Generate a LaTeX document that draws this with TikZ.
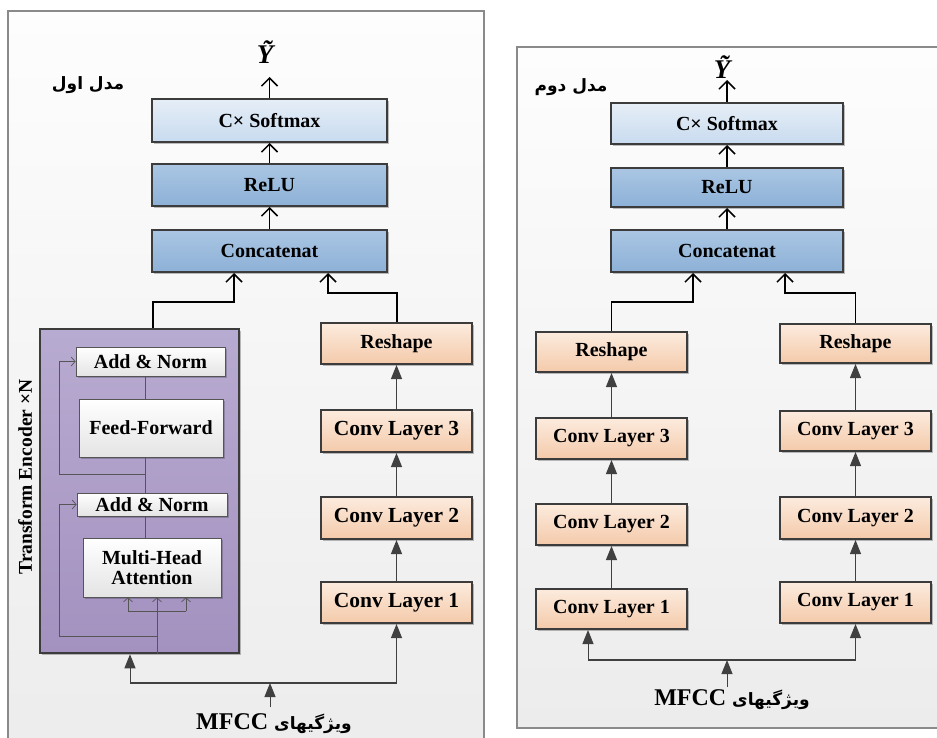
\documentclass[tikz,border=0pt]{standalone}
\usepackage{fontspec}
\setmainfont{Liberation Serif}
\newfontfamily\fa[Script=Arabic]{DejaVu Sans}
\TeXXeTstate=1
\usetikzlibrary{arrows.meta,shadows}
\definecolor{panelTop}{HTML}{FDFDFD}
\definecolor{panelBot}{HTML}{ECECEC}
\definecolor{panelBorder}{HTML}{8A8A8A}
\definecolor{boxBorder}{HTML}{3C3C3C}
\definecolor{softTop}{HTML}{E6EEF7}
\definecolor{softBot}{HTML}{C8DBEF}
\definecolor{blueTop}{HTML}{AAC6E3}
\definecolor{blueBot}{HTML}{8DB1D7}
\definecolor{orTop}{HTML}{FCEBDE}
\definecolor{orBot}{HTML}{F4CAAA}
\definecolor{purTop}{HTML}{B8ABD1}
\definecolor{purBot}{HTML}{A391BF}
\definecolor{whBot}{HTML}{E4E4E4}
\definecolor{thinGray}{HTML}{555555}
\definecolor{arrGray}{HTML}{404040}
\begin{document}
\begin{tikzpicture}[x=1pt,y=-1pt,
  font=\bfseries\fontsize{20}{22}\selectfont,
  panel/.style={draw=panelBorder, line width=1.2pt, top color=panelTop, bottom color=panelBot},
  box/.style={draw=boxBorder, line width=2pt, inner sep=0pt,
    drop shadow={shadow xshift=2pt, shadow yshift=-2pt, opacity=0.25, fill=black}},
  softbox/.style={box, top color=softTop, bottom color=softBot},
  bluebox/.style={box, top color=blueTop, bottom color=blueBot},
  orbox/.style={box, top color=orTop, bottom color=orBot},
  purbox/.style={box, line width=2.5pt, top color=purTop, bottom color=purBot},
  whbox/.style={draw=thinGray, line width=0.8pt, inner sep=0pt, top color=white, bottom color=whBot,
    drop shadow={shadow xshift=1.5pt, shadow yshift=-1.5pt, opacity=0.2, fill=black}},
  bigarr/.style={line width=1.5pt, -{Straight Barb[length=8pt,width=16pt]}},
  bigline/.style={line width=1.5pt},
  grayarr/.style={draw=arrGray, line width=1pt, -{Triangle[length=14pt,width=11pt]}, arrGray},
  grayline/.style={draw=arrGray, line width=1.5pt},
  thinarr/.style={draw=thinGray, line width=0.7pt, -{Straight Barb[length=4pt,width=9pt]}},
  thinline/.style={draw=thinGray, line width=0.7pt},
  txt/.style={inner sep=0pt},
  fatxt/.style={inner sep=0pt, font=\fa\bfseries\fontsize{17}{18}\selectfont}
]
\useasboundingbox (0,0) rectangle (937,738);
\clip (0,0) rectangle (937,738);
\fill[white] (0,0) rectangle (937,738);

% ---------------- panels
\path[panel] (8,11) rectangle (484,760);
\path[panel] (517,47) rectangle (960,728);

% ================= LEFT PANEL
\node[softbox, minimum width=235pt, minimum height=43pt] (lsoft) at (269.5,120.5) {C× Softmax};
\node[bluebox, minimum width=235pt, minimum height=42pt] (lrelu) at (269.5,185) {ReLU};
\node[bluebox, minimum width=235pt, minimum height=42pt] (lconc) at (269.5,251) {Concatenat};

\node[txt, font=\bfseries\itshape\fontsize{27}{27}\selectfont] (ly) at (265,52) {Ỹ};
\node[fatxt] (lt) at (88,85) {\beginR مدل اول\endR};

\node[orbox, minimum width=151pt, minimum height=41pt] (lresh) at (396.5,343.5) {Reshape};
\node[orbox, minimum width=151pt, minimum height=42pt, font=\bfseries\fontsize{21.5}{22}\selectfont] (lc3) at (396.5,431) {Conv Layer 3};
\node[orbox, minimum width=151pt, minimum height=42pt, font=\bfseries\fontsize{21.5}{22}\selectfont] (lc2) at (396.5,518) {Conv Layer 2};
\node[orbox, minimum width=151pt, minimum height=41pt, font=\bfseries\fontsize{21.5}{22}\selectfont] (lc1) at (396.5,602.5) {Conv Layer 1};

% transformer
\node[purbox, minimum width=199pt, minimum height=324pt] (tr) at (139.5,491) {};
\node[txt, rotate=90, font=\bfseries\fontsize{19.5}{20}\selectfont] (trl) at (25,477) {Transform Encoder ×N};
\node[whbox, minimum width=149pt, minimum height=29pt] (an1) at (150.5,361.5) {Add \& Norm};
\node[whbox, minimum width=144pt, minimum height=58pt] (ff) at (151,428) {Feed-Forward};
\node[whbox, minimum width=150pt, minimum height=23pt] (an2) at (152,504.5) {Add \& Norm};
\node[whbox, minimum width=138pt, minimum height=59pt, align=center] (mha) at (152,567.5) {Multi-Head\\[-2pt]Attention};

% transformer internal lines
\coordinate (v) at (145,0);
\draw[thinline] (an1.south -| v) -- (ff.north -| v);
\draw[thinline] (ff.south -| v) -- (an2.north -| v);
\draw[thinline] (an2.south -| v) -- (mha.north -| v);
\coordinate (r1s) at (145,474);
\coordinate (r1c) at (59,474);
\draw[thinarr] (r1s) -- (r1c) |- (an1.west);
\coordinate (r2s) at (157,636);
\coordinate (r2c) at (59,636);
\draw[thinarr] (r2s) -- (r2c) |- (an2.west);
\coordinate (in0) at (157,611);
\coordinate (ia) at (128,611);
\coordinate (ib) at (186,611);
\draw[thinline] (tr.south -| in0) -- (in0);
\draw[thinline] (ia) -- (ib);
\draw[thinarr] (ia) -- (mha.south -| ia);
\draw[thinarr] (in0) -- (mha.south -| in0);
\draw[thinarr] (ib) -- (mha.south -| ib);

% top connectors left
\coordinate (lyE) at (269.5,77);
\draw[bigarr] (lsoft.north) -- (lyE);
\draw[bigarr] (lrelu.north) -- (lsoft.south);
\draw[bigarr] (lconc.north) -- (lrelu.south);
\coordinate (lA) at (153,302);
\coordinate (lB) at (234,302);
\draw[bigarr] (tr.north -| lA) -- (lA) -- (lB) -- (lconc.south -| lB);
\coordinate (lC) at (397,293);
\coordinate (lD) at (328,293);
\draw[bigarr] (lresh.north -| lC) -- (lC) -- (lD) -- (lconc.south -| lD);

% conv column arrows left
\draw[grayarr] (lc3.north) -- (lresh.south);
\draw[grayarr] (lc2.north) -- (lc3.south);
\draw[grayarr] (lc1.north) -- (lc2.south);

% bottom left
\node[txt] (lmf) at (274,724) {\fontsize{24}{24}\selectfont MFCC {\fa\fontsize{17}{18}\selectfont\beginR ویژگیهای\endR}};
\coordinate (lmS) at (270,707);
\coordinate (lmE) at (270,683);
\coordinate (lhL) at (130,683);
\coordinate (lhR) at (396.5,683);
\draw[grayline] (lhL) -- (lhR);
\draw[grayarr] (lmS) -- (lmE);
\draw[grayarr] (lhL) -- (tr.south -| lhL);
\draw[grayarr] (lhR) -- (lc1.south);

% ================= RIGHT PANEL
\node[softbox, minimum width=232pt, minimum height=41pt] (rsoft) at (727,123.5) {C× Softmax};
\node[bluebox, minimum width=232pt, minimum height=39pt] (rrelu) at (727,187.5) {ReLU};
\node[bluebox, minimum width=232pt, minimum height=42pt] (rconc) at (727,251) {Concatenat};

\node[txt, font=\bfseries\itshape\fontsize{27}{27}\selectfont] (ry) at (722,67) {Ỹ};
\node[fatxt] (rt) at (571,87) {\beginR مدل دوم\endR};

\node[orbox, minimum width=151pt, minimum height=40pt] (aresh) at (611.5,352) {Reshape};
\node[orbox, minimum width=151pt, minimum height=41pt] (ac3) at (611.5,438.5) {Conv Layer 3};
\node[orbox, minimum width=151pt, minimum height=41pt] (ac2) at (611.5,524.5) {Conv Layer 2};
\node[orbox, minimum width=151pt, minimum height=40pt] (ac1) at (611.5,609) {Conv Layer 1};

\node[orbox, minimum width=151pt, minimum height=39pt] (bresh) at (855.5,343.5) {Reshape};
\node[orbox, minimum width=151pt, minimum height=40pt] (bc3) at (855.5,431) {Conv Layer 3};
\node[orbox, minimum width=151pt, minimum height=42pt] (bc2) at (855.5,518) {Conv Layer 2};
\node[orbox, minimum width=151pt, minimum height=41pt] (bc1) at (855.5,602.5) {Conv Layer 1};

\coordinate (ryE) at (727,80);
\draw[bigarr] (rsoft.north) -- (ryE);
\draw[bigarr] (rrelu.north) -- (rsoft.south);
\draw[bigarr] (rconc.north) -- (rrelu.south);
\coordinate (rA) at (611.5,302);
\coordinate (rB) at (693,302);
\draw[bigarr] (aresh.north) -- (rA) -- (rB) -- (rconc.south -| rB);
\coordinate (rC) at (855.5,293);
\coordinate (rD) at (785,293);
\draw[bigarr] (bresh.north) -- (rC) -- (rD) -- (rconc.south -| rD);

\draw[grayarr] (ac3.north) -- (aresh.south);
\draw[grayarr] (ac2.north) -- (ac3.south);
\draw[grayarr] (ac1.north) -- (ac2.south);
\draw[grayarr] (bc3.north) -- (bresh.south);
\draw[grayarr] (bc2.north) -- (bc3.south);
\draw[grayarr] (bc1.north) -- (bc2.south);

\node[txt] (rmf) at (732,700) {\fontsize{24}{24}\selectfont MFCC {\fa\fontsize{17}{18}\selectfont\beginR ویژگیهای\endR}};
\coordinate (rmS) at (727,687);
\coordinate (rmE) at (727,660);
\coordinate (rhL) at (588,660);
\coordinate (rhR) at (855.5,660);
\draw[grayline] (rhL) -- (rhR);
\draw[grayarr] (rmS) -- (rmE);
\draw[grayarr] (rhL) -- (ac1.south -| rhL);
\draw[grayarr] (rhR) -- (bc1.south);
\end{tikzpicture}
\end{document}
